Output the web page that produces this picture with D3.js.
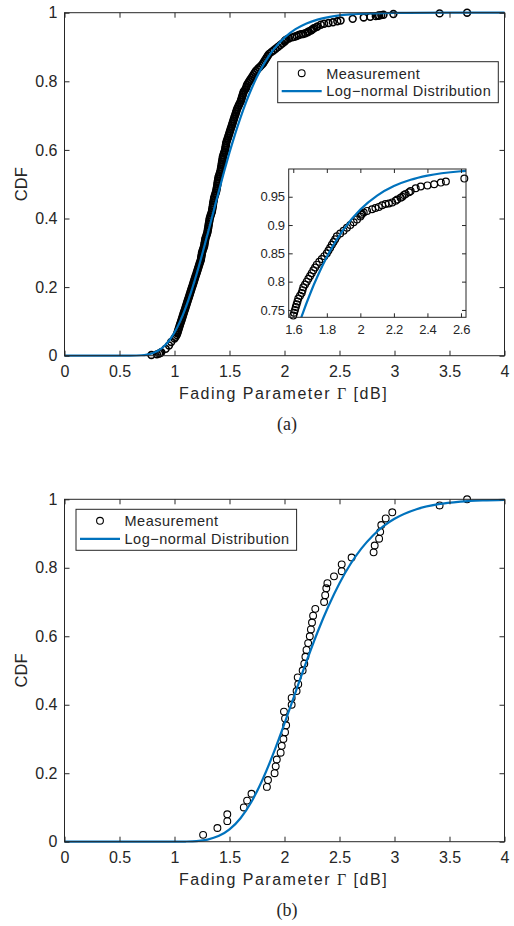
<!DOCTYPE html>
<html>
<head>
<meta charset="utf-8">
<script src="https://cdn.jsdelivr.net/npm/d3@7"></script>
<style>
body { margin: 0; background: #fff; }
svg { display: block; }
text { font-family: "Liberation Sans", Arial, sans-serif; fill: #262626; }
</style>
</head>
<body>
<script>
// ---- data ----
var xTicks = [0, 0.5, 1, 1.5, 2, 2.5, 3, 3.5, 4];
var xTickLabels = ["0", "0.5", "1", "1.5", "2", "2.5", "3", "3.5", "4"];
var yTicks = [0, 0.2, 0.4, 0.6, 0.8, 1];
var yTickLabels = ["0", "0.2", "0.4", "0.6", "0.8", "1"];
var insetXTicks = [1.6, 1.8, 2, 2.2, 2.4, 2.6];
var insetXTickLabels = ["1.6", "1.8", "2", "2.2", "2.4", "2.6"];
var insetYTicks = [0.75, 0.8, 0.85, 0.9, 0.95];
var insetYTickLabels = ["0.75", "0.8", "0.85", "0.9", "0.95"];

var legendLabels = ["Measurement", "Log\u2212normal Distribution"];

// (a) measured CDF  [gamma dB, cdf]
var measA = [
  [0.79,0.002],[0.84,0.004],[0.86,0.006],[0.87,0.008],[0.88,0.01],[0.92,0.02],[0.95,0.03],[0.97,0.04],
  [1.00,0.05],[1.02,0.06],[1.03,0.07],[1.04,0.08],[1.05,0.09],[1.06,0.10],[1.07,0.11],[1.08,0.12],
  [1.09,0.13],[1.10,0.14],[1.11,0.15],[1.12,0.16],[1.13,0.17],[1.14,0.18],[1.15,0.19],[1.16,0.20],
  [1.17,0.21],[1.18,0.22],[1.19,0.23],[1.20,0.24],[1.21,0.25],[1.22,0.26],[1.23,0.27],[1.24,0.28],
  [1.245,0.29],[1.25,0.30],[1.26,0.31],[1.27,0.32],[1.275,0.33],[1.28,0.34],[1.29,0.35],[1.30,0.36],
  [1.305,0.37],[1.31,0.38],[1.315,0.39],[1.32,0.40],[1.33,0.41],[1.34,0.42],[1.345,0.43],[1.35,0.44],
  [1.355,0.45],[1.36,0.46],[1.37,0.47],[1.38,0.48],[1.385,0.49],[1.39,0.50],[1.395,0.51],[1.40,0.52],
  [1.41,0.53],[1.42,0.54],[1.425,0.55],[1.43,0.56],[1.435,0.57],[1.44,0.58],[1.45,0.59],[1.46,0.60],
  [1.465,0.61],[1.47,0.62],[1.48,0.63],[1.49,0.64],[1.50,0.65],[1.51,0.66],[1.52,0.67],[1.53,0.68],
  [1.54,0.69],[1.55,0.70],[1.56,0.71],[1.57,0.72],[1.585,0.73],[1.60,0.74],[1.605,0.745],[1.61,0.75],
  [1.615,0.755],[1.62,0.76],[1.625,0.765],[1.63,0.77],[1.64,0.775],[1.65,0.78],[1.655,0.785],[1.66,0.79],
  [1.67,0.795],[1.68,0.80],[1.69,0.805],[1.70,0.81],[1.71,0.815],[1.72,0.82],[1.73,0.825],[1.74,0.83],
  [1.755,0.835],[1.77,0.84],[1.785,0.845],[1.80,0.85],[1.81,0.855],[1.82,0.86],[1.83,0.865],[1.84,0.87],
  [1.85,0.875],[1.86,0.88],[1.88,0.885],[1.90,0.89],[1.92,0.895],[1.94,0.90],[1.96,0.905],[1.98,0.91],
  [2.00,0.915],[2.005,0.918],[2.01,0.92],[2.02,0.922],[2.04,0.925],[2.07,0.928],[2.09,0.930],[2.11,0.932],
  [2.13,0.935],[2.15,0.937],[2.17,0.938],[2.19,0.940],[2.21,0.943],[2.22,0.945],[2.24,0.948],[2.25,0.950],
  [2.26,0.953],[2.27,0.955],[2.29,0.958],[2.30,0.960],[2.33,0.965],[2.36,0.968],[2.40,0.970],[2.44,0.972],
  [2.48,0.975],[2.51,0.977],[2.62,0.982],[2.72,0.986],[2.78,0.988],[2.83,0.990],[2.85,0.991],[2.86,0.992],
  [2.88,0.993],[2.90,0.994],[2.99,0.996],[3.41,0.998],[3.66,1.000]
];

// (a) further measured points in the dense part of the curve
var measA2 = [
  [1.01,0.055],[1.025,0.065],[1.035,0.075],[1.045,0.085],[1.055,0.095],[1.065,0.105],[1.075,0.115],
  [1.085,0.125],[1.095,0.135],[1.105,0.145],[1.115,0.155],[1.125,0.165],[1.135,0.175],[1.145,0.185],
  [1.155,0.195],[1.165,0.205],[1.175,0.215],[1.185,0.225],[1.195,0.235],[1.205,0.245],[1.215,0.255],
  [1.225,0.265],[1.235,0.275],[1.242,0.285],[1.248,0.295],[1.255,0.305],[1.265,0.315],[1.272,0.325],
  [1.278,0.335],[1.285,0.345],[1.295,0.355],[1.302,0.365],[1.308,0.375],[1.312,0.385],[1.318,0.395],
  [1.325,0.405],[1.335,0.415],[1.342,0.425],[1.348,0.435],[1.352,0.445],[1.358,0.455],[1.365,0.465],
  [1.375,0.475],[1.382,0.485],[1.388,0.495],[1.392,0.505],[1.398,0.515],[1.405,0.525],[1.415,0.535],
  [1.422,0.545],[1.428,0.555],[1.432,0.565],[1.438,0.575],[1.445,0.585],[1.455,0.595],[1.462,0.605],
  [1.468,0.615],[1.475,0.625],[1.485,0.635],[1.495,0.645],[1.505,0.655],[1.515,0.665],[1.525,0.675],
  [1.535,0.685],[1.545,0.695],[1.555,0.705],[1.565,0.715],[1.578,0.725],[1.592,0.735]
];

// (a) fitted log-normal CDF
var fitA_x   = [0, 0.5, 0.6, 0.7, 0.75, 0.8, 0.85, 0.9, 0.95, 1.0, 1.05, 1.1, 1.15, 1.2, 1.25, 1.3, 1.35, 1.4,
                1.45, 1.5, 1.55, 1.6, 1.65, 1.7, 1.75, 1.8, 1.85, 1.9, 2.0, 2.1, 2.2, 2.3, 2.4, 2.6, 2.8, 3.0, 3.5, 4.0];
var fitA_cdf = [0, 0, 0.0001, 0.0013, 0.0033, 0.0073, 0.0145, 0.0262, 0.0436, 0.0677, 0.0994, 0.1387, 0.1847,
                0.2368, 0.2937, 0.3536, 0.4148, 0.4759, 0.5354, 0.5922, 0.6453, 0.6943, 0.7386, 0.7782, 0.813,
                0.8435, 0.8698, 0.8923, 0.9274, 0.952, 0.9688, 0.9799, 0.9872, 0.995, 0.998, 0.9993, 1.0, 1.0];

// (b) measured CDF
var measB = [
  [1.26,0.02],[1.39,0.04],[1.48,0.06],[1.48,0.08],[1.63,0.10],[1.66,0.12],[1.70,0.14],[1.84,0.16],
  [1.85,0.18],[1.91,0.20],[1.92,0.22],[1.93,0.24],[1.965,0.26],[1.975,0.28],[1.99,0.30],[2.005,0.32],
  [2.015,0.34],[2.005,0.36],[1.995,0.38],[2.065,0.40],[2.065,0.42],[2.11,0.44],[2.125,0.46],[2.12,0.48],
  [2.165,0.50],[2.18,0.52],[2.19,0.54],[2.20,0.56],[2.215,0.58],[2.23,0.60],[2.24,0.62],[2.25,0.64],
  [2.26,0.66],[2.28,0.68],[2.36,0.70],[2.37,0.72],[2.38,0.74],[2.39,0.755],[2.45,0.775],[2.52,0.79],
  [2.52,0.81],[2.61,0.83],[2.81,0.845],[2.82,0.865],[2.86,0.885],[2.87,0.905],[2.88,0.925],[2.92,0.944],
  [2.98,0.962],[3.41,0.982],[3.66,1.000]
];

// (b) fitted log-normal CDF
var fitB_x   = [0, 0.5, 1.0, 1.1, 1.2, 1.3, 1.4, 1.5, 1.6, 1.7, 1.8, 1.9, 2.0, 2.1, 2.2, 2.3, 2.4, 2.5, 2.6,
                2.7, 2.8, 2.9, 3.0, 3.2, 3.4, 3.6, 3.8, 4.0];
var fitB_cdf = [0, 0, 0.0001, 0.0005, 0.0019, 0.0062, 0.0163, 0.0359, 0.0686, 0.1169, 0.181, 0.2584, 0.3453,
                0.4364, 0.5267, 0.6118, 0.6883, 0.7551, 0.8111, 0.8568, 0.8931, 0.9215, 0.943, 0.971, 0.9857,
                0.9932, 0.9969, 0.9986];

// ---- drawing ----
var blue = "#0072BD";
var axisCol = "#262626";

var svg = d3.select("body").append("svg")
    .attr("width", 514)
    .attr("height", 926);

var clipId = 0;

function styleAxis(g, fontSize, ls) {
  g.select(".domain").remove();
  g.selectAll(".tick line").attr("stroke", axisCol);
  g.selectAll(".tick text").attr("fill", axisCol)
    .style("font-size", fontSize + "px")
    .style("letter-spacing", ls + "px");
}

function frame(g, x, y, xt, yt, xl, yl, tick, fs, xpad, ypad, ls) {
  var x0 = x.range()[0], x1 = x.range()[1], y0 = y.range()[0], y1 = y.range()[1];
  g.append("rect")
    .attr("x", x0).attr("y", y1)
    .attr("width", x1 - x0).attr("height", y0 - y1)
    .attr("fill", "#fff");
  return function () {
    g.append("g").attr("transform", "translate(0," + y0 + ")")
      .call(d3.axisBottom(x).tickValues(xt).tickFormat((d, i) => xl[i]).tickSize(-tick).tickPadding(xpad))
      .call(s => styleAxis(s, fs, ls));
    g.append("g").attr("transform", "translate(0," + y1 + ")")
      .call(d3.axisTop(x).tickValues(xt).tickFormat("").tickSize(-tick))
      .call(s => styleAxis(s, fs, ls));
    g.append("g").attr("transform", "translate(" + x0 + ",0)")
      .call(d3.axisLeft(y).tickValues(yt).tickFormat((d, i) => yl[i]).tickSize(-tick).tickPadding(ypad))
      .call(s => styleAxis(s, fs, ls));
    g.append("g").attr("transform", "translate(" + x1 + ",0)")
      .call(d3.axisRight(y).tickValues(yt).tickFormat("").tickSize(-tick))
      .call(s => styleAxis(s, fs, ls));
    g.append("rect")
      .attr("x", x0).attr("y", y1)
      .attr("width", x1 - x0).attr("height", y0 - y1)
      .attr("fill", "none").attr("stroke", axisCol).attr("stroke-width", 1);
  };
}

function drawSeries(g, x, y, meas, fx, fc, clip, sw) {
  var pts = meas.filter(d => d[0] >= x.domain()[0] && d[0] <= x.domain()[1] &&
                             d[1] >= y.domain()[0] && d[1] <= y.domain()[1]);
  g.append("g").selectAll("circle")
    .data(pts).enter()
    .append("circle")
      .attr("cx", d => x(d[0]))
      .attr("cy", d => y(d[1]))
      .attr("r", 3.4)
      .attr("fill", "none")
      .attr("stroke", "#000")
      .attr("stroke-width", sw);

  var line = d3.line()
      .x(d => x(d[0]))
      .y(d => y(d[1]))
      .curve(d3.curveMonotoneX);
  var path = g.append("path")
      .attr("d", line(d3.zip(fx, fc)))
      .attr("fill", "none")
      .attr("stroke", blue)
      .attr("stroke-width", 2.2);
  if (clip) path.attr("clip-path", "url(#" + clip + ")");
}

function legend(g, bx, by) {
  var w = 220.6, h = 41;
  g.append("rect").attr("x", bx).attr("y", by).attr("width", w).attr("height", h)
    .attr("fill", "#fff").attr("stroke", axisCol).attr("stroke-width", 1);
  g.append("circle").attr("cx", bx + 24).attr("cy", by + 11.5).attr("r", 3.4)
    .attr("fill", "none").attr("stroke", "#000").attr("stroke-width", 1.1);
  g.append("line").attr("x1", bx + 4).attr("x2", bx + 44)
    .attr("y1", by + 29.5).attr("y2", by + 29.5)
    .attr("stroke", blue).attr("stroke-width", 2.2);
  g.selectAll("text.leg").data(legendLabels).enter()
    .append("text").attr("class", "leg")
      .attr("x", bx + 48.5)
      .attr("y", (d, i) => by + 17 + i * 17.5)
      .style("font-size", "14.5px")
      .style("letter-spacing", "0.5px")
      .text(d => d);
}

function panel(top, bottom, meas, fx, fc, caption, legPos, withInset, sw) {
  var g = svg.append("g");
  var x = d3.scaleLinear().domain([0, 4]).range([64.5, 504.5]);
  var y = d3.scaleLinear().domain([0, 1]).range([bottom, top]);

  var finish = frame(g, x, y, xTicks, yTicks, xTickLabels, yTickLabels, 5, 16, 10, 7, 0);
  drawSeries(g, x, y, meas, fx, fc, null, sw);
  finish();

  g.append("text")
    .attr("transform", "translate(27," + ((top + bottom) / 2) + ") rotate(-90)")
    .attr("text-anchor", "middle")
    .style("font-size", "16.5px")
    .text("CDF");

  var xl = g.append("text")
    .attr("x", 283.5).attr("y", bottom + 43)
    .attr("text-anchor", "middle")
    .style("font-size", "16px")
    .style("letter-spacing", "1.5px");
  xl.append("tspan").text("Fading Parameter ");
  xl.append("tspan").style("font-family", "'Liberation Serif', serif").text("\u0393");
  xl.append("tspan").text(" [dB]");

  g.append("text")
    .attr("x", 287).attr("y", bottom + 74)
    .attr("text-anchor", "middle")
    .style("font-family", "'Liberation Serif', 'Times New Roman', serif")
    .style("font-size", "18px")
    .text(caption);

  legend(g, legPos[0], legPos[1]);

  if (withInset) {
    var xi = d3.scaleLinear().domain([1.5727, 2.63]).range([288.7, 466]);
    var yi = d3.scaleLinear().domain([0.737, 0.999]).range([317.3, 169]);
    var gi = svg.append("g");
    var id = "clip" + (clipId++);
    gi.append("clipPath").attr("id", id).append("rect")
      .attr("x", 288.7).attr("y", 169).attr("width", 466 - 288.7).attr("height", 317.3 - 169);
    var fin = frame(gi, xi, yi, insetXTicks, insetYTicks, insetXTickLabels, insetYTickLabels, 4, 13, 7, 4, -0.3);
    drawSeries(gi, xi, yi, meas, fx, fc, id, 1.2);
    fin();
  }
}

panel(12.7, 355.7, measA.concat(measA2), fitA_x, fitA_cdf, "(a)", [277.7, 61.7], true, 1.6);
panel(499.3, 841.7, measB, fitB_x, fitB_cdf, "(b)", [76, 509.3], false, 1.1);
</script>
</body>
</html>
